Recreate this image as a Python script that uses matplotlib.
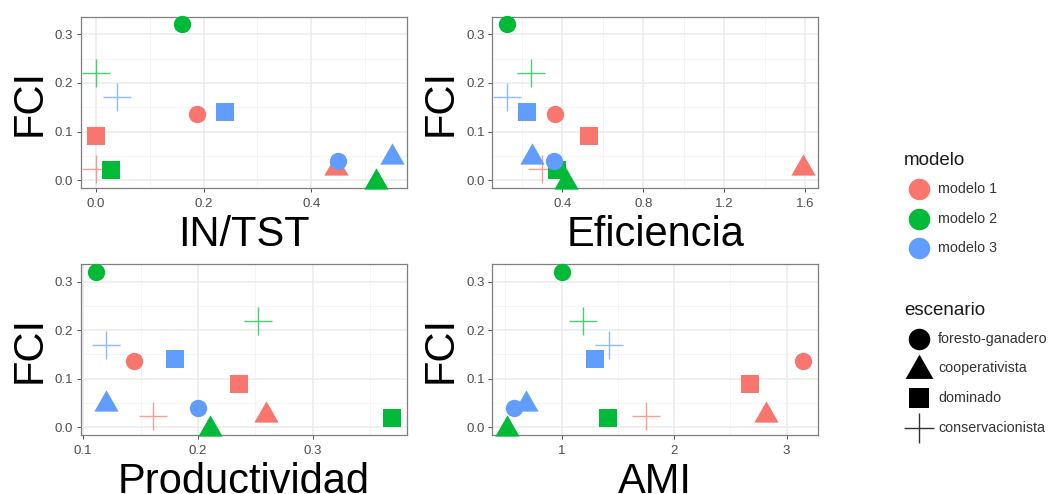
import matplotlib
matplotlib.use("Agg")
import matplotlib.pyplot as plt
from matplotlib.path import Path
import numpy as np

plt.rcParams['font.family'] = ['Liberation Sans', 'DejaVu Sans']

# ---- data ----
modelos = ["modelo 1", "modelo 2", "modelo 3"]
escenarios = ["foresto-ganadero", "cooperativista", "dominado", "conservacionista"]
# order: for each modelo, the 4 escenarios in the order above
modelo_col = ["modelo 1"] * 4 + ["modelo 2"] * 4 + ["modelo 3"] * 4
escenario_col = escenarios * 3
fci = [0.136, 0.030, 0.090, 0.024,
       0.320, 0.000, 0.020, 0.220,
       0.040, 0.052, 0.140, 0.170]
in_tst = [0.187, 0.446, 0.000, 0.000,
          0.160, 0.520, 0.028, 0.000,
          0.450, 0.550, 0.240, 0.040]
eficiencia = [0.366, 1.591, 0.533, 0.300,
              0.127, 0.418, 0.375, 0.245,
              0.358, 0.252, 0.224, 0.127]
productividad = [0.144, 0.259, 0.236, 0.161,
                 0.111, 0.210, 0.369, 0.252,
                 0.200, 0.120, 0.180, 0.120]
ami = [3.150, 2.815, 2.675, 1.747,
       1.000, 0.515, 1.415, 1.190,
       0.572, 0.680, 1.300, 1.420]

panels = [("IN/TST", in_tst), ("Eficiencia", eficiencia),
          ("Productividad", productividad), ("AMI", ami)]
xmajor = [[0.0, 0.2, 0.4], [0.4, 0.8, 1.2, 1.6], [0.1, 0.2, 0.3], [1, 2, 3]]
xminor = [[0.1, 0.3, 0.5], [0.2, 0.6, 1.0, 1.4], [0.15, 0.25, 0.35], [0.5, 1.5, 2.5]]
xfmt = ["{:.1f}", "{:.1f}", "{:.1f}", "{:d}"]

colors = {"modelo 1": "#F8766D", "modelo 2": "#00BA38", "modelo 3": "#619CFF"}

# equilateral triangle (like R's pch 17), centred near its middle
tri = Path([(-1, -0.75), (1, -0.75), (0, 1.0), (-1, -0.75)],
           [Path.MOVETO, Path.LINETO, Path.LINETO, Path.CLOSEPOLY])

markers = {"foresto-ganadero": "o", "cooperativista": tri,
           "dominado": "s", "conservacionista": "+"}
msize = {"foresto-ganadero": 12.5, "cooperativista": 17.5,
         "dominado": 13.5, "conservacionista": 19.5}

fig = plt.figure(figsize=(10.54, 4.94), dpi=100)

W, H = 1054, 494
pos = [(81, 16.7, 407, 188), (492.3, 16.7, 818.3, 188),
       (81, 264.3, 407, 435), (492.3, 264.3, 818.3, 435)]

def expand(vals):
    lo, hi = min(vals), max(vals)
    d = (hi - lo) * 0.05
    return lo - d, hi + d

for i, (label, xs) in enumerate(panels):
    x0, y0, x1, y1 = pos[i]
    ax = fig.add_axes([x0 / W, 1 - y1 / H, (x1 - x0) / W, (y1 - y0) / H])
    ax.set_facecolor("white")
    ax.set_xlim(*expand(xs))
    ax.set_ylim(*expand(fci))
    ax.set_xticks(xmajor[i])
    ax.set_xticklabels([xfmt[i].format(v) for v in xmajor[i]])
    ax.set_xticks(xminor[i], minor=True)
    ax.set_yticks([0.0, 0.1, 0.2, 0.3])
    ax.set_yticklabels(["0.0", "0.1", "0.2", "0.3"])
    ax.set_yticks([0.05, 0.15, 0.25], minor=True)
    ax.grid(which="major", color="#EBEBEB", linewidth=1.1)
    ax.grid(which="minor", color="#F2F2F2", linewidth=0.6)
    ax.set_axisbelow(True)
    ax.tick_params(which="major", length=3, width=0.6, color="#333333",
                   labelsize=9.5, labelcolor="#4D4D4D")
    ax.tick_params(axis="x", which="major", pad=4)
    ax.tick_params(axis="y", which="major", pad=2.5)
    ax.tick_params(which="minor", length=0)
    for s in ax.spines.values():
        s.set_color("#7F7F7F")
        s.set_linewidth(0.9)
    for m, e, xv, yv in zip(modelo_col, escenario_col, xs, fci):
        mk = markers[e]
        if isinstance(mk, str) and mk == "+":
            ax.plot(xv, yv, marker="+", ms=msize[e], mew=1.0, alpha=0.7,
                    color=colors[m], ls="none", clip_on=False, zorder=3)
        else:
            ax.plot(xv, yv, marker=mk, ms=msize[e], mew=0,
                    color=colors[m], ls="none", clip_on=False, zorder=3)
    ax.set_xlabel(label, fontsize=30, labelpad=3.5)
    ax.set_ylabel("FCI", fontsize=30, labelpad=4)

# legend drawn in a pixel-coordinate overlay axes
lax = fig.add_axes([880 / W, 0, 174 / W, 1])
lax.set_xlim(880, 1054)
lax.set_ylim(H, 0)
lax.axis("off")

lax.text(904, 160, "modelo", fontsize=13.5, color="#1A1A1A", va="center", ha="left")
for k, m in enumerate(modelos):
    y = 189 + k * 29.7
    lax.plot(919, y, marker="o", ms=15.5, mew=0, color=colors[m], ls="none", clip_on=False)
    lax.text(938, y, m, fontsize=10.3, color="#333333", va="center", ha="left")

lax.text(904, 310, "escenario", fontsize=13.5, color="#1A1A1A", va="center", ha="left")
leg_ms = {"foresto-ganadero": 15.5, "cooperativista": 20.0,
          "dominado": 14.5, "conservacionista": 22}
for k, e in enumerate(escenarios):
    y = 338.5 + k * 29.7
    mk = markers[e]
    if isinstance(mk, str) and mk == "+":
        lax.plot(919, y, marker="+", ms=leg_ms[e], mew=1.0, alpha=0.8,
                 color="black", ls="none", clip_on=False)
    else:
        lax.plot(919, y, marker=mk, ms=leg_ms[e], mew=0, color="black",
                 ls="none", clip_on=False)
    lax.text(938, y, e, fontsize=10.3, color="#333333", va="center", ha="left")

fig.savefig("out.png", dpi=100, facecolor="white")
